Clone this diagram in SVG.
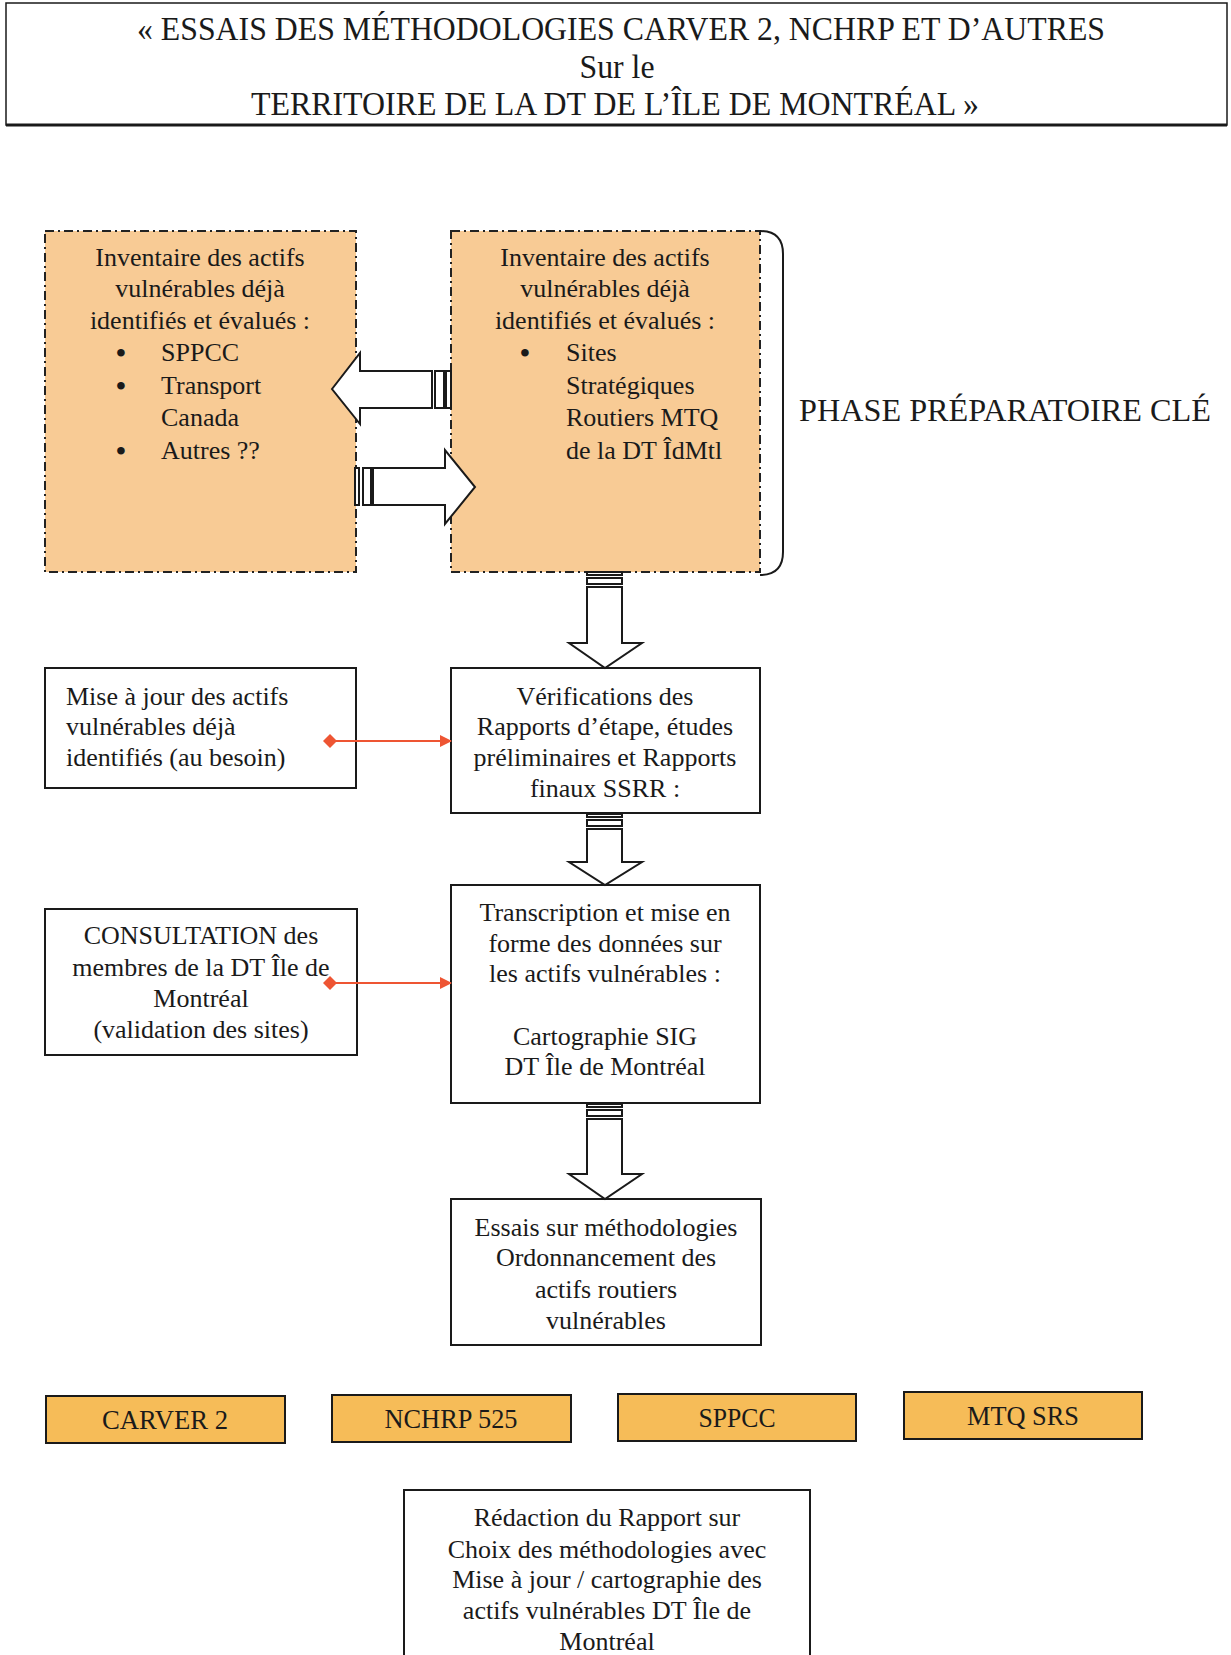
<svg xmlns="http://www.w3.org/2000/svg" width="1231" height="1655" viewBox="0 0 1231 1655">
<defs>
<style>
.t{font-family:"Liberation Serif","Times New Roman",serif;font-size:26px;fill:#1a1a1a}
.c{text-anchor:middle}
.b{font-family:"Liberation Serif","Times New Roman",serif;font-size:28px;font-weight:bold;fill:#1a1a1a;text-anchor:middle}
.box{fill:#ffffff;stroke:#1a1a1a;stroke-width:2}
.dbox{fill:#F8CB95;stroke:#222;stroke-width:2;stroke-dasharray:9 4 2 4}
.obox{fill:#F6BC58;stroke:#1a1a1a;stroke-width:2}
.blk{fill:#ffffff;stroke:#1a1a1a;stroke-width:2;stroke-linejoin:miter}
.red{stroke:#EE5533;stroke-width:2;fill:none}
</style>
<marker id="rarrow" markerWidth="12" markerHeight="12" refX="11" refY="6" orient="auto" markerUnits="userSpaceOnUse">
<path d="M0,0 L12,6 L0,12 Z" fill="#EE5533"/>
</marker>
<marker id="rdiam" markerWidth="14" markerHeight="14" refX="7" refY="7" orient="auto" markerUnits="userSpaceOnUse">
<path d="M0,7 L7,0 L14,7 L7,14 Z" fill="#EE5533"/>
</marker>
</defs>
<rect width="1231" height="1655" fill="#ffffff"/>

<g id="title">
<rect x="6" y="3" width="1221" height="122" fill="#ffffff" stroke="#1a1a1a" stroke-width="1.5"/>
<line x1="6" y1="125" x2="1227" y2="125" stroke="#1a1a1a" stroke-width="3"/>
<text class="t c" x="621" y="40" style="font-size:33px" textLength="968" lengthAdjust="spacingAndGlyphs">« ESSAIS DES MÉTHODOLOGIES CARVER 2, NCHRP ET D’AUTRES</text>
<text class="t c" x="617" y="78" style="font-size:33px" textLength="75" lengthAdjust="spacingAndGlyphs">Sur le</text>
<text class="t c" x="615" y="115" style="font-size:33px" textLength="728" lengthAdjust="spacingAndGlyphs">TERRITOIRE DE LA DT DE L’ÎLE DE MONTRÉAL »</text>
</g>

<g id="inv-left">
<rect class="dbox" x="45" y="231" width="311" height="341"/>
<text class="t c" x="200" y="266">Inventaire des actifs</text>
<text class="t c" x="200" y="297">vulnérables déjà</text>
<text class="t c" x="200" y="329">identifiés et évalués :</text>
<text class="b" x="121" y="362">•</text><text class="t" x="161" y="361">SPPCC</text>
<text class="b" x="121" y="395">•</text><text class="t" x="161" y="394">Transport</text>
<text class="t" x="161" y="426">Canada</text>
<text class="b" x="121" y="460">•</text><text class="t" x="161" y="459">Autres ??</text>
</g>

<g id="inv-right">
<rect class="dbox" x="451" y="231" width="309" height="341"/>
<text class="t c" x="605" y="266">Inventaire des actifs</text>
<text class="t c" x="605" y="297">vulnérables déjà</text>
<text class="t c" x="605" y="329">identifiés et évalués :</text>
<text class="b" x="525" y="362">•</text><text class="t" x="566" y="361">Sites</text>
<text class="t" x="566" y="394">Stratégiques</text>
<text class="t" x="566" y="426">Routiers MTQ</text>
<text class="t" x="566" y="459">de la DT ÎdMtl</text>
</g>

<g id="phase">
<path d="M760,231 Q783,231 783,254 L783,552 Q783,575 760,575" fill="none" stroke="#1a1a1a" stroke-width="2"/>
<text class="t" x="799" y="421" style="font-size:31px" textLength="412" lengthAdjust="spacingAndGlyphs">PHASE PRÉPARATOIRE CLÉ</text>
</g>

<g id="maj">
<rect class="box" x="45" y="668" width="311" height="120"/>
<text class="t" x="66" y="705">Mise à jour des actifs</text>
<text class="t" x="66" y="735">vulnérables déjà</text>
<text class="t" x="66" y="766">identifiés (au besoin)</text>
</g>

<g id="verif">
<rect class="box" x="451" y="668" width="309" height="145"/>
<text class="t c" x="605" y="705">Vérifications des</text>
<text class="t c" x="605" y="735">Rapports d’étape, études</text>
<text class="t c" x="605" y="766">préliminaires et Rapports</text>
<text class="t c" x="605" y="797">finaux SSRR :</text>
</g>

<g id="consult">
<rect class="box" x="45" y="909" width="312" height="146"/>
<text class="t c" x="201" y="944">CONSULTATION des</text>
<text class="t c" x="201" y="976">membres de la DT Île de</text>
<text class="t c" x="201" y="1007">Montréal</text>
<text class="t c" x="201" y="1038">(validation des sites)</text>
</g>

<g id="transcr">
<rect class="box" x="451" y="885" width="309" height="218"/>
<text class="t c" x="605" y="921">Transcription et mise en</text>
<text class="t c" x="605" y="952">forme des données sur</text>
<text class="t c" x="605" y="982">les actifs vulnérables :</text>
<text class="t c" x="605" y="1045">Cartographie SIG</text>
<text class="t c" x="605" y="1075">DT Île de Montréal</text>
</g>

<g id="essais">
<rect class="box" x="451" y="1199" width="310" height="146"/>
<text class="t c" x="606" y="1236">Essais sur méthodologies</text>
<text class="t c" x="606" y="1266">Ordonnancement des</text>
<text class="t c" x="606" y="1298">actifs routiers</text>
<text class="t c" x="606" y="1329">vulnérables</text>
</g>

<g id="carver">
<rect class="obox" x="46" y="1396" width="239" height="47"/>
<text class="t c" x="165" y="1429" style="font-size:28px" textLength="126" lengthAdjust="spacingAndGlyphs">CARVER 2</text>
</g>
<g id="nchrp">
<rect class="obox" x="332" y="1395" width="239" height="47"/>
<text class="t c" x="451" y="1428" style="font-size:28px" textLength="133" lengthAdjust="spacingAndGlyphs">NCHRP 525</text>
</g>
<g id="sppcc">
<rect class="obox" x="618" y="1394" width="238" height="47"/>
<text class="t c" x="737" y="1427" style="font-size:28px" textLength="77" lengthAdjust="spacingAndGlyphs">SPPCC</text>
</g>
<g id="mtqsrs">
<rect class="obox" x="904" y="1392" width="238" height="47"/>
<text class="t c" x="1023" y="1425" style="font-size:28px" textLength="112" lengthAdjust="spacingAndGlyphs">MTQ SRS</text>
</g>

<g id="redaction">
<rect class="box" x="404" y="1490" width="406" height="180"/>
<text class="t c" x="607" y="1526">Rédaction du Rapport sur</text>
<text class="t c" x="607" y="1558">Choix des méthodologies avec</text>
<text class="t c" x="607" y="1588">Mise à jour / cartographie des</text>
<text class="t c" x="607" y="1619">actifs vulnérables DT Île de</text>
<text class="t c" x="607" y="1650">Montréal</text>
</g>

<g id="connectors">
<polygon class="blk" points="332,389 360,353 360,371 432,371 432,408 360,408 360,424"/>
<rect class="blk" x="435" y="371" width="9" height="37"/>
<rect class="blk" x="446" y="371" width="5" height="37"/>
<rect class="blk" x="355" y="468" width="4" height="37"/>
<rect class="blk" x="363" y="468" width="8" height="37"/>
<polygon class="blk" points="373,468 445,468 445,450 475,487 445,524 445,505 373,505"/>
<rect class="blk" x="587" y="572" width="35" height="3"/>
<rect class="blk" x="587" y="578" width="35" height="6"/>
<polygon class="blk" points="587,587 622,587 622,643 642,643 605,668 569,643 587,643"/>
<rect class="blk" x="587" y="814" width="35" height="3"/>
<rect class="blk" x="587" y="820" width="35" height="6"/>
<polygon class="blk" points="587,829 622,829 622,862 642,862 605,885 569,862 587,862"/>
<rect class="blk" x="587" y="1104" width="35" height="3"/>
<rect class="blk" x="587" y="1110" width="35" height="6"/>
<polygon class="blk" points="587,1119 622,1119 622,1174 642,1174 605,1199 569,1174 587,1174"/>
<line class="red" x1="330" y1="741" x2="451" y2="741" marker-start="url(#rdiam)" marker-end="url(#rarrow)"/>
<line class="red" x1="330" y1="983" x2="451" y2="983" marker-start="url(#rdiam)" marker-end="url(#rarrow)"/>
</g>
</svg>
